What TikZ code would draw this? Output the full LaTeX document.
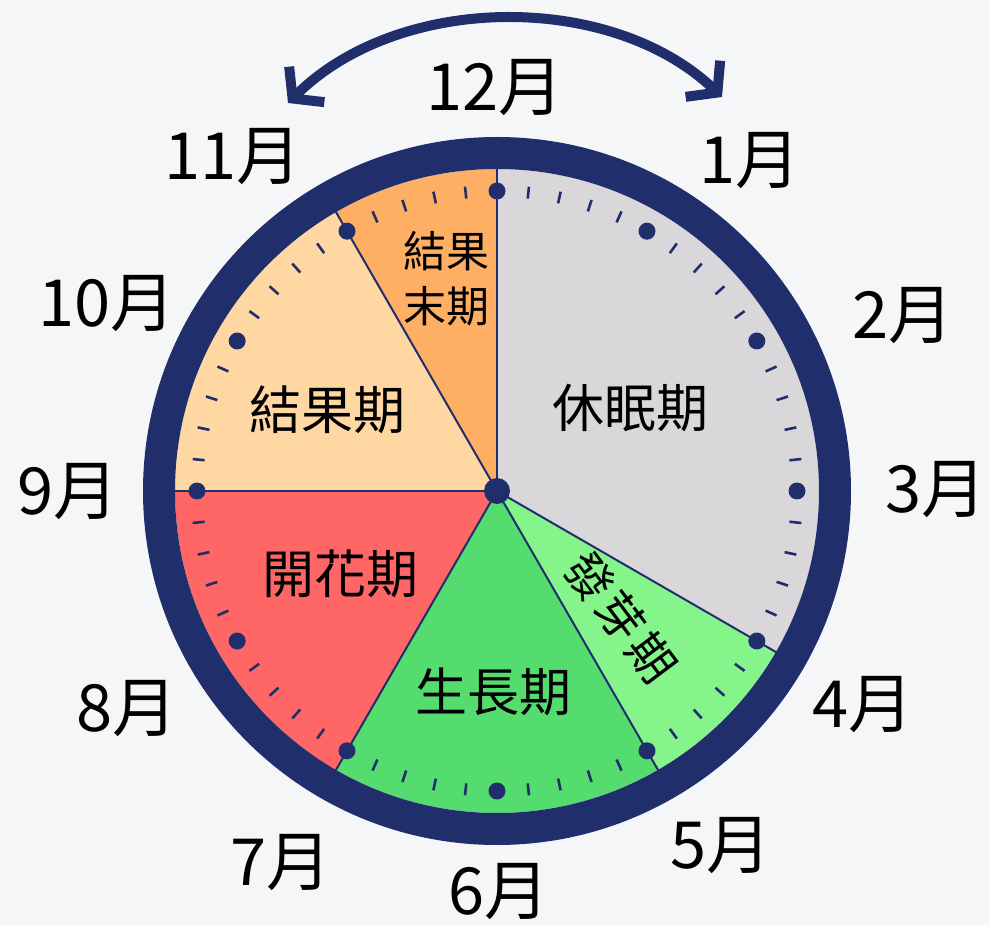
\documentclass[tikz,border=0pt]{standalone}
\usepackage{fontspec}
\setmainfont{Noto Sans CJK TC}
\usetikzlibrary{arrows.meta}
\definecolor{navy}{RGB}{32,46,108}
\definecolor{bgcol}{RGB}{245,246,248}
\definecolor{dormantcol}{RGB}{217,215,218}
\definecolor{sproutcol}{RGB}{133,245,139}
\definecolor{growcol}{RGB}{84,220,110}
\definecolor{bloomcol}{RGB}{255,102,102}
\definecolor{fruitcol}{RGB}{255,215,163}
\definecolor{fruitendcol}{RGB}{255,175,100}
\begin{document}
\begin{tikzpicture}[x=1pt,y=1pt,
  month/.style={font=\fontsize{65}{65}\selectfont, inner sep=0pt, text=black},
  phase/.style={font=\fontsize{52}{52}\selectfont, inner sep=0pt, text=black},
  smallphase/.style={font=\fontsize{43}{55}\selectfont, inner sep=0pt, text=black, align=center},
  wedgeline/.style={draw=navy, line width=2pt},
  tickmark/.style={draw=navy, line width=2.6pt},
  ringline/.style={draw=navy, line width=32pt},
  bigarrow/.style={draw=navy, line width=10pt,
    {Straight Barb[length=20pt,width=50pt]}-{Straight Barb[length=20pt,width=50pt]}}
  ]
\useasboundingbox (0,0) rectangle (989,-925);
\fill[fill=bgcol] (0,0) rectangle (989,-925);
\coordinate (C) at (497,-491);
\begin{scope}[shift={(497,-491)}]
  % sectors
  \fill[fill=dormantcol] (0,0) -- (90:322pt) arc[start angle=90, end angle=-30, radius=322pt] -- cycle;
  \fill[fill=sproutcol] (0,0) -- (-30:322pt) arc[start angle=-30, end angle=-60, radius=322pt] -- cycle;
  \fill[fill=growcol] (0,0) -- (-60:322pt) arc[start angle=-60, end angle=-120, radius=322pt] -- cycle;
  \fill[fill=bloomcol] (0,0) -- (-120:322pt) arc[start angle=-120, end angle=-180, radius=322pt] -- cycle;
  \fill[fill=fruitcol] (0,0) -- (180:322pt) arc[start angle=180, end angle=120, radius=322pt] -- cycle;
  \fill[fill=fruitendcol] (0,0) -- (120:322pt) arc[start angle=120, end angle=90, radius=322pt] -- cycle;
  % wedge borders
  \foreach \a in {90,-30,-60,-120,180,120}
    \draw[wedgeline] (0,0) -- (\a:324pt);
  % ticks and dots
  \foreach \i in {0,...,59}{
    \pgfmathtruncatemacro\m{mod(\i,5)}
    \ifnum\m=0
      \fill[fill=navy] ({90-6*\i}:300pt) circle (8.5pt);
    \else
      \draw[tickmark] ({90-6*\i}:294pt) -- ({90-6*\i}:306pt);
    \fi
  }
  % ring
  \draw[ringline] (0,0) circle (338pt);
\end{scope}
\fill[fill=navy] (C) circle (13pt);
% top arrow
\coordinate (arrL) at (288,-103);
\coordinate (arrR) at (722,-97);
\draw[bigarrow] (arrL) .. controls (400,8) and (612,8) .. (arrR);
% phase labels
\node[phase] (p1) at (630,-408) {休眠期};
\node[phase] (p2) at (327,-410) {結果期};
\node[smallphase] (p3) at (446,-279) {結果\\末期};
\node[phase] (p4) at (340,-574) {開花期};
\node[phase] (p5) at (493,-692) {生長期};
\node[phase, font=\fontsize{47}{47}\selectfont, rotate=-53] (p6) at (621,-617) {發\hspace{4pt}芽\hspace{4pt}期};
% month labels
\node[month] (m12) at (495,-88) {12月};
\node[month] (m1) at (750,-161) {1月};
\node[month] (m2) at (903,-316) {2月};
\node[month] (m3) at (936,-490) {3月};
\node[month] (m4) at (863,-705) {4月};
\node[month] (m5) at (721,-846) {5月};
\node[month] (m6) at (499,-892) {6月};
\node[month] (m7) at (281,-863) {7月};
\node[month] (m8) at (127,-709) {8月};
\node[month] (m9) at (68,-492) {9月};
\node[month] (m10) at (107,-304) {10月};
\node[month] (m11) at (233,-157) {11月};
\end{tikzpicture}
\end{document}
